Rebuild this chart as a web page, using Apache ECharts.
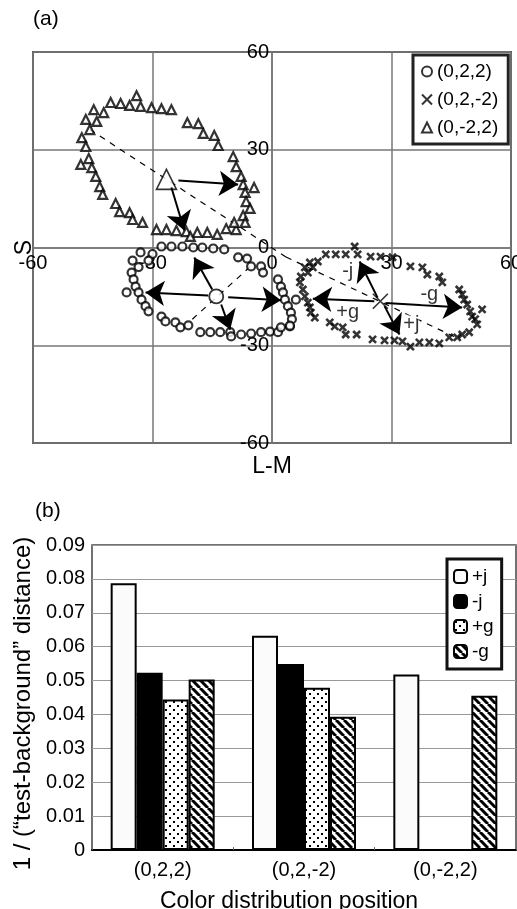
<!DOCTYPE html>
<html>
<head>
<meta charset="utf-8">
<script src="https://cdn.jsdelivr.net/npm/echarts@6/dist/echarts.min.js"></script>
<style>
  html, body { margin: 0; padding: 0; background: #fff; }
  #chart { width: 517px; height: 909px; }
</style>
</head>
<body>
<div id="chart"></div>
<script>
// ---- panel (a): colour distributions in the L-M / S plane ----
const circlePts = [
  [-27.75, 0.3], [-25.25, 0.3], [-22.5, 0.3], [-19.75, 0], [-17.5, 0], [-14.75, -0.3], [-12, -0.6],
  [-33, -1.5], [-30, -2], [-35, -4], [-31, -4], [-33.5, -6],
  [-35.25, -7.7], [-34.75, -9.8], [-34.25, -12], [-36.5, -13.8], [-33.5, -13.8], [-32.75, -16], [-31.75, -18], [-31, -19.6],
  [-27.75, -21.2], [-26.75, -22.7], [-24.25, -23], [-23, -24.5], [-21, -23.9], [-18, -26], [-15.5, -26], [-13, -26],
  [-10.5, -26], [-10.25, -27.3], [-7.75, -26.7], [-5.25, -26.4], [-2.75, -26], [-0.5, -25.8], [1.5, -26], [2.25, -24.5], [4.5, -24.2],
  [1.5, -9.8], [2.25, -12], [2.75, -13.8], [3.25, -16], [4, -18], [4.75, -20], [5, -22], [4.5, -24],
  [-8.5, -3], [-6.25, -3.4], [-5.25, -5.8], [-2.75, -5.8], [-2.25, -7.7], [6, -16]
];
const crossPts = [
  [13.5, -2.1], [16, -2.1], [18.5, -2.1], [20.75, 0.3], [21.5, -2.1], [24.75, -2.8], [27.25, -2.8], [30.25, -3],
  [11.5, -4.3], [9.5, -4.6], [10.25, -6.1], [8.25, -6.1], [9, -7.7], [7.25, -8.9],
  [7, -10.7], [7.75, -12.9], [8.25, -15], [9, -16.9], [9.5, -18.4], [9.75, -20], [10.75, -21.5],
  [14.5, -23], [15.75, -24.2], [17.75, -24.5], [18.5, -26.7], [21.25, -26.7],
  [25.25, -28.2], [28.25, -28.5], [30.75, -28.5], [32.75, -28.8], [34.75, -30.4], [37, -29.1], [39.5, -29.1],
  [42, -29.4], [44.5, -27.6], [46.5, -27.6], [47.75, -26.7], [49.5, -26],
  [47, -12.9], [47.75, -14.4], [48.25, -16], [49, -17.5], [49.75, -19.6], [50.25, -21.2], [51.5, -23.6], [52.75, -19], [51, -22],
  [34.75, -5.8], [37.75, -6.1], [39, -8.3], [42, -8.9], [42.75, -10.7]
];
const trianglePts = [
  [-34, 46.6], [-40.5, 44.5], [-38, 44.2], [-35.75, 43.6], [-33, 43.3], [-30.25, 42.9], [-27.75, 42.6], [-25.25, 42.3],
  [-44.75, 42.3], [-42.25, 41.4], [-46.75, 39.3], [-44, 38.7], [-45.75, 36.2], [-47.75, 33.7], [-46.75, 31],
  [-48, 25.5], [-46, 27.3], [-45.25, 24.5], [-44.25, 21.8], [-43.25, 18.7], [-42.5, 16.3],
  [-39.25, 13.5], [-38.25, 11], [-35.75, 10.7], [-35, 8.6], [-32.5, 7.7],
  [-29, 5.5], [-26.5, 5.5], [-24, 5.2], [-21.5, 4.9], [-18.75, 4.6], [-16.25, 4.6], [-13.75, 4], [-11.5, 5.8], [-9, 5.5], [-20.5, 3.4],
  [-9.75, 27.9], [-9, 24.8], [-7.75, 21.8], [-7.25, 19.3], [-6.75, 16.9], [-4.5, 18.4], [-6.5, 14.1], [-5.5, 12],
  [-7.25, 9.8], [-9.5, 7.7], [-6.75, 7.7],
  [-21.25, 38.3], [-18.5, 38], [-17.25, 35], [-14.5, 34.4], [-13.5, 31.3]
];
const circleCenter = [[-14, -15]];
const crossCenter = [[27.2, -16.5]];
const triangleCenter = [[-26.5, 20.9]];

// principal axes (dashed)
const dashedAxes = [
  [[-45.75, 36.2], [3.5, -2.9]],
  [[3.5, -2.9], [46, -27.5]],
  [[-20, -22], [-4.5, -4.8]]
];
// colour-change directions (arrows)
const arrows = [
  [[-16, -14.7], [-31.75, -13.8]], [[-11, -15.3], [2.25, -16.2]],
  [[-15, -12.9], [-19.5, -3.1]], [[-12.75, -17.5], [-10.5, -25.2]],
  [[25.7, -16.5], [10.25, -15.7]], [[28.5, -17], [47.75, -18.4]],
  [[26.5, -15.4], [22, -4.3]], [[28.25, -18], [32, -26.7]],
  [[-23.5, 20.6], [-8.5, 19.3]], [[-25.25, 18.4], [-22, 5.2]]
];
const arrowLabels = [
  ['-j', 19, -7.4], ['-g', 39.5, -14.4], ['+g', 19, -20], ['+j', 35, -23.6]
];
const axisTicksA = [-60, 60, 30];

// ---- panel (b): reciprocal distance per colour distribution ----
const positions = ['(0,2,2)', '(0,2,-2)', '(0,-2,2)'];
const plusJ = [0.0787, 0.0632, 0.0518];
const minusJ = [0.0523, 0.0549, '-'];
const plusG = [0.0444, 0.0479, '-'];
const minusG = [0.0503, 0.0393, 0.0455];

const FONT = '"Liberation Sans", Arial, sans-serif';
const CROSS = 'path://M0,0L10,10M10,0L0,10';

function dotPattern() {
  const c = document.createElement('canvas');
  c.width = 8; c.height = 8;
  const g = c.getContext('2d');
  g.fillStyle = '#fff'; g.fillRect(0, 0, 8, 8);
  g.fillStyle = '#000';
  g.fillRect(1, 1, 2, 2); g.fillRect(5, 5, 2, 2);
  return { image: c, repeat: 'repeat' };
}
function stripePattern() {
  const s = 8;
  const c = document.createElement('canvas');
  c.width = s; c.height = s;
  const g = c.getContext('2d');
  g.fillStyle = '#fff'; g.fillRect(0, 0, s, s);
  g.strokeStyle = '#000'; g.lineWidth = 3;
  [-s, 0, s].forEach((o) => {
    g.beginPath(); g.moveTo(o, 0); g.lineTo(o + s, s); g.stroke();
  });
  return { image: c, repeat: 'repeat' };
}

const chart = echarts.init(document.getElementById('chart'));

// panel (a) plot box; axes are pulled in to cross at the origin
const gridA = { left: 33, top: 52, width: 478, height: 391 };
const hollow = { color: '#fff', borderColor: '#000', borderWidth: 2.2 };

const option = {
  animation: false,
  textStyle: { fontFamily: FONT, color: '#000' },
  title: [
    { text: '(a)', left: 28, top: 4, textStyle: { fontFamily: FONT, fontSize: 21, fontWeight: 'normal', color: '#000' } },
    { text: '(b)', left: 30, top: 496, textStyle: { fontFamily: FONT, fontSize: 21, fontWeight: 'normal', color: '#000' } }
  ],
  legend: [
    {
      data: ['(0,2,2)', '(0,2,-2)', '(0,-2,2)'],
      orient: 'vertical', left: 413, top: 55,
      padding: [7, 10, 7, 8], itemGap: 9, itemWidth: 10, itemHeight: 10,
      borderColor: '#222', borderWidth: 3, backgroundColor: '#fff',
      textStyle: { fontFamily: FONT, fontSize: 19, color: '#000' }
    },
    {
      data: ['+j', '-j', '+g', '-g'],
      orient: 'vertical', left: 447, top: 559,
      padding: [8, 8, 8, 6], itemGap: 6, itemWidth: 13, itemHeight: 13,
      borderColor: '#111', borderWidth: 3, backgroundColor: '#fff',
      textStyle: { fontFamily: FONT, fontSize: 19, color: '#000' }
    }
  ],
  grid: [
    Object.assign({ show: true, borderColor: '#555', borderWidth: 2, outerBoundsMode: 'none' }, gridA),
    { left: 92, top: 545, right: 1, height: 305, show: true, borderColor: '#444', borderWidth: 1.5, outerBoundsMode: 'none' }
  ],
  xAxis: [
    {
      gridIndex: 0, type: 'value', min: axisTicksA[0], max: axisTicksA[1], interval: axisTicksA[2],
      position: 'bottom', offset: -gridA.height / 2,
      axisLine: { onZero: false, lineStyle: { color: '#777', width: 1.5 } },
      axisTick: { show: false },
      axisLabel: { margin: 6, fontSize: 20, color: '#000', fontFamily: FONT },
      splitLine: { lineStyle: { color: '#777', width: 1.5 } },
      name: 'L-M', nameLocation: 'middle', nameGap: 208, nameMoveOverlap: false,
      nameTextStyle: { fontSize: 23, color: '#000', fontFamily: FONT }
    },
    {
      gridIndex: 1, type: 'category', data: positions,
      axisLine: { lineStyle: { color: '#000', width: 2 } },
      axisTick: { show: true, inside: true, length: 3, lineStyle: { color: '#666' } },
      axisLabel: { margin: 10, fontSize: 20, color: '#000', fontFamily: FONT },
      name: 'Color distribution position', nameLocation: 'middle', nameGap: 40,
      nameTextStyle: { fontSize: 23, color: '#000', fontFamily: FONT, padding: [0, 30, 0, 0] }
    }
  ],
  yAxis: [
    {
      gridIndex: 0, type: 'value', min: axisTicksA[0], max: axisTicksA[1], interval: axisTicksA[2],
      position: 'left', offset: -gridA.width / 2,
      axisLine: { onZero: false, lineStyle: { color: '#777', width: 1.5 } },
      axisTick: { show: false },
      axisLabel: { margin: 3, fontSize: 20, color: '#000', fontFamily: FONT },
      splitLine: { lineStyle: { color: '#777', width: 1.5 } },
      name: 'S', nameLocation: 'middle', nameGap: 236, nameRotate: 90, nameMoveOverlap: false,
      nameTextStyle: { fontSize: 23, color: '#000', fontFamily: FONT }
    },
    {
      gridIndex: 1, type: 'value', min: 0, max: 0.09, interval: 0.01,
      axisLine: { show: false },
      axisTick: { show: false },
      axisLabel: {
        margin: 7, fontSize: 20, color: '#000', fontFamily: FONT,
        formatter: (v) => (v === 0 ? '0' : v.toFixed(2))
      },
      splitLine: { lineStyle: { color: '#999', width: 1.2 } },
      name: '1 / (\u201Ctest-background\u201D distance)', nameLocation: 'middle', nameGap: 52,
      nameTextStyle: { fontSize: 24, color: '#000', fontFamily: FONT, padding: [0, 12, 0, 0] }
    }
  ],
  series: [
    {
      type: 'lines', coordinateSystem: 'cartesian2d', xAxisIndex: 0, yAxisIndex: 0, z: 2,
      lineStyle: { color: '#000', width: 1.2, type: [6, 6], opacity: 1 },
      symbol: 'none',
      data: dashedAxes.map((c) => ({ coords: c }))
    },
    {
      name: '(0,2,2)', type: 'scatter', xAxisIndex: 0, yAxisIndex: 0, z: 3,
      symbol: 'circle', symbolSize: 8, itemStyle: hollow, data: circlePts
    },
    {
      name: '(0,2,-2)', type: 'scatter', xAxisIndex: 0, yAxisIndex: 0, z: 3,
      symbol: CROSS, symbolSize: 7,
      itemStyle: { color: 'rgba(0,0,0,0)', borderColor: '#000', borderWidth: 2.6 },
      data: crossPts
    },
    {
      name: '(0,-2,2)', type: 'scatter', xAxisIndex: 0, yAxisIndex: 0, z: 3,
      symbol: 'triangle', symbolSize: 9, itemStyle: hollow, data: trianglePts
    },
    {
      type: 'scatter', xAxisIndex: 0, yAxisIndex: 0, z: 4,
      symbol: 'circle', symbolSize: 14, itemStyle: { color: '#fff', borderColor: '#000', borderWidth: 1.8 },
      data: circleCenter
    },
    {
      type: 'scatter', xAxisIndex: 0, yAxisIndex: 0, z: 4,
      symbol: CROSS, symbolSize: 15,
      itemStyle: { color: 'rgba(0,0,0,0)', borderColor: '#000', borderWidth: 1.6 },
      data: crossCenter
    },
    {
      type: 'scatter', xAxisIndex: 0, yAxisIndex: 0, z: 4,
      symbol: 'triangle', symbolSize: 20, itemStyle: { color: '#fff', borderColor: '#000', borderWidth: 1.6 },
      data: triangleCenter
    },
    {
      type: 'lines', coordinateSystem: 'cartesian2d', xAxisIndex: 0, yAxisIndex: 0, z: 5,
      lineStyle: { color: '#000', width: 2, opacity: 1 },
      symbol: ['none', 'arrow'], symbolSize: [0, 19],
      data: arrows.map((c) => ({ coords: c }))
    },
    {
      type: 'scatter', xAxisIndex: 0, yAxisIndex: 0, z: 6,
      symbolSize: 0,
      label: {
        show: true, position: 'inside', fontSize: 20, color: '#000', fontFamily: FONT,
        backgroundColor: 'rgba(255,255,255,0.6)',
        formatter: (p) => p.name
      },
      data: arrowLabels.map((d) => ({ name: d[0], value: [d[1], d[2]] }))
    },
    {
      name: '+j', type: 'bar', xAxisIndex: 1, yAxisIndex: 1,
      barWidth: 26, barGap: '0%',
      itemStyle: { color: '#fbfbfb', borderColor: '#000', borderWidth: 2 },
      data: plusJ
    },
    {
      name: '-j', type: 'bar', xAxisIndex: 1, yAxisIndex: 1,
      barWidth: 26, barGap: '0%',
      itemStyle: { color: '#000', borderColor: '#000', borderWidth: 2 },
      data: minusJ
    },
    {
      name: '+g', type: 'bar', xAxisIndex: 1, yAxisIndex: 1,
      barWidth: 26, barGap: '0%',
      itemStyle: { color: dotPattern(), borderColor: '#000', borderWidth: 2 },
      data: plusG
    },
    {
      name: '-g', type: 'bar', xAxisIndex: 1, yAxisIndex: 1,
      barWidth: 26, barGap: '0%',
      itemStyle: { color: stripePattern(), borderColor: '#000', borderWidth: 2 },
      data: minusG
    }
  ]
};

chart.setOption(option);
</script>
</body>
</html>
